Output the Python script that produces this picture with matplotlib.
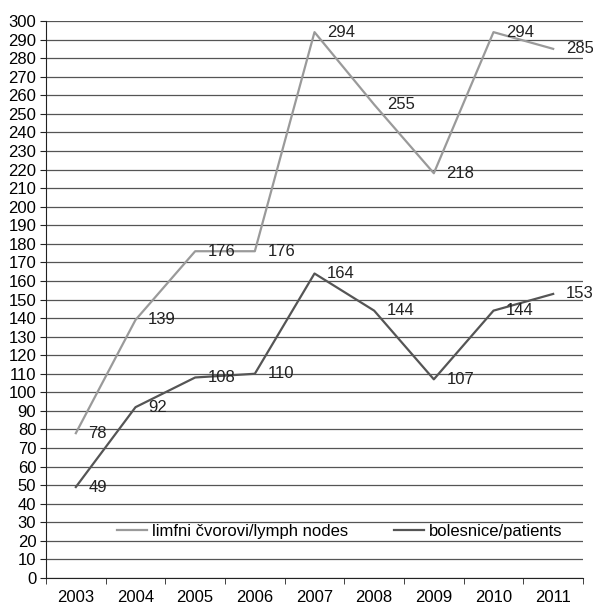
import matplotlib.pyplot as plt
import numpy as np

plt.rcParams['font.family'] = ['Liberation Sans', 'DejaVu Sans']

years = ["2003", "2004", "2005", "2006", "2007", "2008", "2009", "2010", "2011"]
lymph_nodes = [78, 139, 176, 176, 294, 255, 218, 294, 285]
patients = [49, 92, 108, 110, 164, 144, 107, 144, 153]

fig = plt.figure(figsize=(5.93, 6.05), dpi=100)
ax = fig.add_axes([46 / 593, 1 - 578 / 605, (583 - 46) / 593, (578 - 21) / 605])

x = np.arange(len(years))
ax.plot(x, lymph_nodes, color="#9a9a9a", lw=1.6, label="limfni čvorovi/lymph nodes", zorder=3)
ax.plot(x, patients, color="#555555", lw=1.6, label="bolesnice/patients", zorder=3)

for xi, v in zip(x, lymph_nodes):
    ax.annotate(str(v), (xi, v), xytext=(9, 0), textcoords="offset points",
                va="center", ha="left", fontsize=12, color="#222222", zorder=4)
for xi, v in zip(x, patients):
    ax.annotate(str(v), (xi, v), xytext=(9, 0), textcoords="offset points",
                va="center", ha="left", fontsize=12, color="#222222", zorder=4)

ax.set_xlim(-0.5, len(years) - 0.5)
ax.set_ylim(0, 300)
ax.set_yticks(range(0, 301, 10))
ax.set_xticks(x)
ax.set_xticklabels(years)
ax.set_xticks(np.arange(-0.5, len(years), 1), minor=True)
ax.tick_params(axis="x", which="major", length=0, pad=9, labelsize=12)
ax.tick_params(axis="x", which="minor", length=4, color="#222222")
ax.tick_params(axis="y", length=4, labelsize=12, color="#222222", pad=3)

ax.grid(axis="y", color="#555555", lw=0.9)
ax.set_axisbelow(True)
for s in ["top", "right"]:
    ax.spines[s].set_visible(False)
ax.spines["left"].set_color("#222222")
ax.spines["bottom"].set_color("#222222")

ax.legend(loc="center", bbox_to_anchor=(0.547, 0.083), ncol=2, frameon=False,
          fontsize=12, handlelength=1.8, columnspacing=2.7, handletextpad=0.35)

fig.savefig("out.png", dpi=100)
